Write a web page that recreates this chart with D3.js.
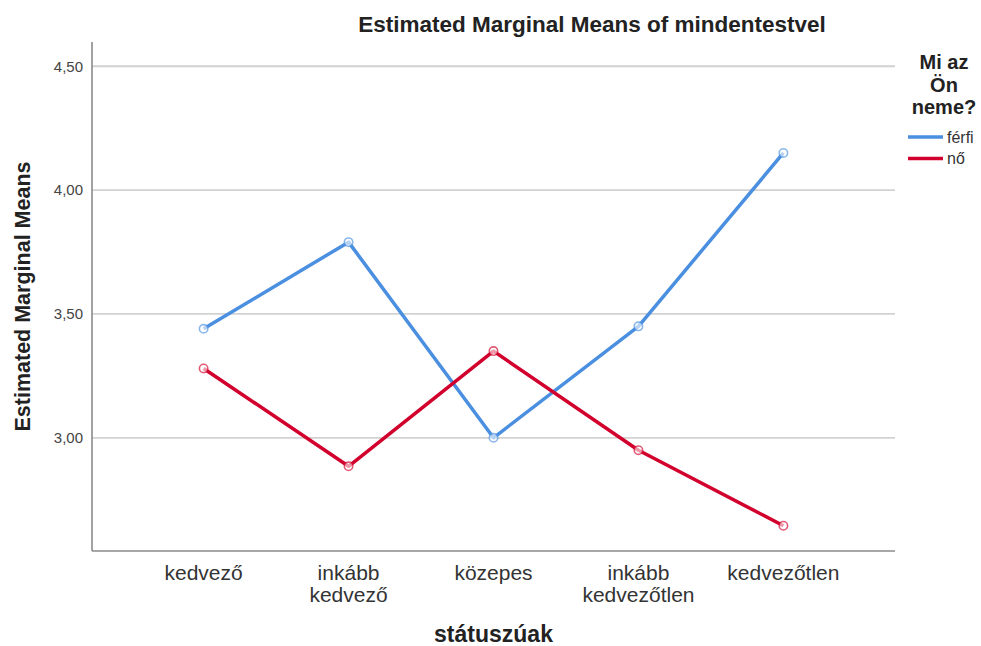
<!DOCTYPE html>
<html>
<head>
<meta charset="utf-8">
<script src="https://cdn.jsdelivr.net/npm/d3@7"></script>
<style>
    body { margin: 0; background: #fff; }
    svg { font-family: "Liberation Sans", Arial, sans-serif; }
</style>
</head>
<body>
<svg width="981" height="646"></svg>
<script>
// data
var categories = ["kedvező", "inkább kedvező", "közepes", "inkább kedvezőtlen", "kedvezőtlen"];
var categoryLines = [["kedvező"], ["inkább", "kedvező"], ["közepes"], ["inkább", "kedvezőtlen"], ["kedvezőtlen"]];
var ferfiValues = [3.44, 3.79, 3.00, 3.45, 4.15];
var noValues = [3.28, 2.885, 3.35, 2.95, 2.645];
var seriesNames = ["férfi", "nő"];
var yTicks = [3.00, 3.50, 4.00, 4.50];

var svg = d3.select("svg");
var width = +svg.attr("width");
var height = +svg.attr("height");

var plotLeft = 92, plotRight = 895, plotTop = 42, plotBottom = 551;
var colors = { "férfi": "#4a8fe0", "nő": "#d2002c" };

svg.append("rect").attr("width", width).attr("height", height).attr("fill", "#fff");

var x = d3.scalePoint()
    .domain(categories)
    .range([plotLeft, plotRight])
    .padding(0.77);

var y = d3.scaleLinear()
    .domain([2.543, 4.598])
    .range([plotBottom, plotTop]);

var fmt = function(d) { return d3.format(".2f")(d).replace(".", ","); };

// GRID
svg.append("g")
    .selectAll("line")
    .data(yTicks)
    .enter()
    .append("line")
    .attr("x1", plotLeft)
    .attr("x2", plotRight)
    .attr("y1", function(d) { return y(d); })
    .attr("y2", function(d) { return y(d); })
    .attr("stroke", "#d2d2d2")
    .attr("stroke-width", 1.8);

// Y AXIS
var yAxis = d3.axisLeft(y)
    .tickValues(yTicks)
    .tickSize(0)
    .tickPadding(9)
    .tickFormat(fmt);
var gy = svg.append("g")
    .attr("transform", "translate(" + plotLeft + ",0)")
    .call(yAxis);
gy.select(".domain").remove();
gy.selectAll("text")
    .attr("font-size", 15)
    .attr("fill", "#444")
    .attr("font-family", "Liberation Sans, Arial, sans-serif");

// X AXIS
var xAxis = d3.axisBottom(x).tickSize(0).tickFormat("");
var gx = svg.append("g")
    .attr("transform", "translate(0," + plotBottom + ")")
    .call(xAxis);
gx.select(".domain").remove();

svg.append("line")
    .attr("x1", plotLeft).attr("x2", plotLeft)
    .attr("y1", plotTop).attr("y2", plotBottom)
    .attr("stroke", "#8a8a8a").attr("stroke-width", 1.6);
svg.append("line")
    .attr("x1", plotLeft).attr("x2", plotRight)
    .attr("y1", plotBottom).attr("y2", plotBottom)
    .attr("stroke", "#8a8a8a").attr("stroke-width", 1.6);

// x tick labels, wrapped
var labels = svg.append("g")
    .selectAll("text")
    .data(categories)
    .enter()
    .append("text")
    .attr("text-anchor", "middle")
    .attr("font-size", 21)
    .attr("fill", "#333")
    .attr("transform", function(d) { return "translate(" + x(d) + "," + (plotBottom + 29) + ")"; });
labels.selectAll("tspan")
    .data(function(d, i) { return categoryLines[i]; })
    .enter()
    .append("tspan")
    .attr("x", 0)
    .attr("dy", function(d, i) { return i === 0 ? 0 : 22; })
    .text(function(d) { return d; });

// LINES
var series = [
    { name: seriesNames[0], values: ferfiValues },
    { name: seriesNames[1], values: noValues }
];

var line = d3.line()
    .x(function(d, i) { return x(categories[i]); })
    .y(function(d) { return y(d); });

svg.append("g")
    .selectAll("path")
    .data(series)
    .enter()
    .append("path")
    .attr("d", function(d) { return line(d.values); })
    .attr("fill", "none")
    .attr("stroke", function(d) { return colors[d.name]; })
    .attr("stroke-width", 3.5)
    .attr("stroke-linejoin", "round");

series.forEach(function(s) {
    svg.append("g")
        .selectAll("circle")
        .data(s.values)
        .enter()
        .append("circle")
        .attr("cx", function(d, i) { return x(categories[i]); })
        .attr("cy", function(d) { return y(d); })
        .attr("r", 4.2)
        .attr("fill", "#fff")
        .attr("fill-opacity", 0.6)
        .attr("stroke", colors[s.name])
        .attr("stroke-opacity", 0.65)
        .attr("stroke-width", 1.6);
});

// TITLES
svg.append("text")
    .attr("x", 592)
    .attr("y", 32)
    .attr("text-anchor", "middle")
    .attr("font-size", 22.5)
    .attr("font-weight", "bold")
    .attr("fill", "#222")
    .text("Estimated Marginal Means of mindentestvel");

svg.append("text")
    .attr("transform", "translate(30," + ((plotTop + plotBottom) / 2) + ") rotate(-90)")
    .attr("text-anchor", "middle")
    .attr("font-size", 21.5)
    .attr("font-weight", "bold")
    .attr("fill", "#222")
    .text("Estimated Marginal Means");

svg.append("text")
    .attr("x", (plotLeft + plotRight) / 2)
    .attr("y", 642)
    .attr("text-anchor", "middle")
    .attr("font-size", 23)
    .attr("font-weight", "bold")
    .attr("fill", "#222")
    .text("státuszúak");

// LEGEND
var legendTitle = ["Mi az", "Ön", "neme?"];
svg.append("g")
    .selectAll("text")
    .data(legendTitle)
    .enter()
    .append("text")
    .attr("x", 944)
    .attr("y", function(d, i) { return 69 + i * 22.5; })
    .attr("text-anchor", "middle")
    .attr("font-size", 20)
    .attr("font-weight", "bold")
    .attr("fill", "#222")
    .text(function(d) { return d; });

var legend = svg.append("g")
    .selectAll("g")
    .data(seriesNames)
    .enter()
    .append("g")
    .attr("transform", function(d, i) { return "translate(908," + (137 + i * 21.5) + ")"; });
legend.append("line")
    .attr("x1", 0).attr("x2", 35)
    .attr("stroke", function(d) { return colors[d]; })
    .attr("stroke-width", 3.5);
legend.append("text")
    .attr("x", 39)
    .attr("dy", "0.35em")
    .attr("font-size", 16)
    .attr("fill", "#333")
    .text(function(d) { return d; });
</script>
</body>
</html>
